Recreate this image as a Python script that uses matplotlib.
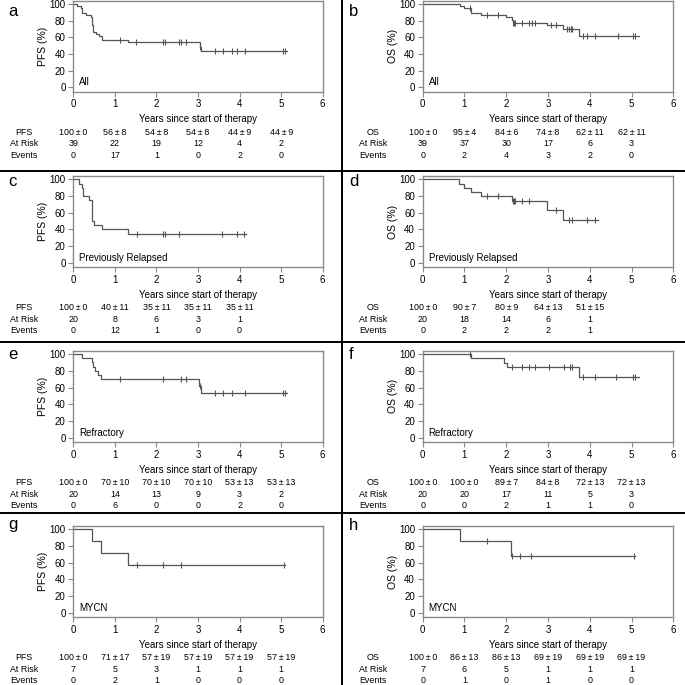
import matplotlib
matplotlib.use('Agg')
import matplotlib.pyplot as plt
from matplotlib.lines import Line2D

plt.rcParams['font.family'] = ['Liberation Sans', 'DejaVu Sans']

# ---------------- data ----------------
xticks = [0, 1, 2, 3, 4, 5, 6]
yticks = [0, 20, 40, 60, 80, 100]
xlabel = "Years since start of therapy"
row_labels_pfs = ["PFS", "At Risk", "Events"]
row_labels_os = ["OS", "At Risk", "Events"]
table_times = [0, 1, 2, 3, 4, 5]

# a: PFS All
a_t = [0, 0.10, 0.18, 0.22, 0.30, 0.42, 0.45, 0.48, 0.55, 0.62, 0.68, 1.32, 3.04, 3.08]
a_s = [100, 97.4, 94.9, 89.7, 87.2, 84.6, 74.4, 66.7, 64.1, 61.5, 56.4, 54.0, 49.0, 44.0]
a_cens = [1.13, 1.52, 2.17, 2.20, 2.55, 2.60, 2.70, 3.05, 3.41, 3.59, 3.81, 3.93, 4.13, 5.05, 5.09]
a_end = 5.15
a_est = [100, 56, 54, 54, 44, 44]
a_se = [0, 8, 8, 8, 9, 9]
a_risk = [39, 22, 19, 12, 4, 2]
a_events = [0, 17, 1, 0, 2, 0]

# b: OS All
b_t = [0, 0.89, 1.00, 1.16, 1.40, 1.99, 2.13, 2.16, 2.97, 3.35, 3.75]
b_s = [100, 97.4, 94.9, 89.6, 86.8, 84.0, 80.9, 77.8, 74.3, 69.5, 62.0]
b_cens = [1.13, 1.53, 1.81, 2.17, 2.19, 2.21, 2.37, 2.55, 2.61, 2.69, 3.07, 3.18,
          3.45, 3.50, 3.54, 3.58, 3.83, 3.93, 4.13, 4.67, 5.04, 5.09]
b_end = 5.18
b_est = [100, 95, 84, 74, 62, 62]
b_se = [0, 4, 6, 8, 11, 11]
b_risk = [39, 37, 30, 17, 6, 3]
b_events = [0, 2, 4, 3, 2, 0]

# c: PFS Previously Relapsed
c_t = [0, 0.14, 0.20, 0.24, 0.38, 0.44, 0.46, 0.50, 0.68, 1.32]
c_s = [100, 95, 90, 80, 75, 60, 50, 45, 40, 35]
c_cens = [1.53, 2.17, 2.20, 2.55, 3.58, 3.93, 4.10]
c_end = 4.15
c_est = [100, 40, 35, 35, 35]
c_se = [0, 11, 11, 11, 11]
c_risk = [20, 8, 6, 3, 1]
c_events = [0, 12, 1, 0, 0]

# d: OS Previously Relapsed
d_t = [0, 0.88, 1.00, 1.16, 1.40, 2.13, 2.97, 3.35]
d_s = [100, 95, 90, 85, 80, 74.3, 63.7, 51.0]
d_cens = [1.53, 1.81, 2.17, 2.19, 2.21, 2.37, 2.55, 3.18, 3.50, 3.58, 3.93, 4.13]
d_end = 4.20
d_est = [100, 90, 80, 64, 51]
d_se = [0, 7, 9, 13, 15]
d_risk = [20, 18, 14, 6, 1]
d_events = [0, 2, 2, 2, 1]

# e: PFS Refractory
e_t = [0, 0.22, 0.44, 0.47, 0.52, 0.59, 0.67, 3.03, 3.07]
e_s = [100, 95, 90, 85, 80, 75, 70, 62.2, 53.0]
e_cens = [1.13, 2.17, 2.60, 2.70, 3.05, 3.41, 3.59, 3.81, 4.13, 5.05, 5.09]
e_end = 5.15
e_est = [100, 70, 70, 70, 53, 53]
e_se = [0, 10, 10, 10, 13, 13]
e_risk = [20, 14, 13, 9, 3, 2]
e_events = [0, 6, 0, 0, 2, 0]

# f: OS Refractory
f_t = [0, 1.16, 1.94, 2.03, 3.75]
f_s = [100, 95, 89.5, 84.0, 72.0]
f_cens = [1.13, 2.15, 2.37, 2.55, 2.69, 3.03, 3.38, 3.52, 3.58, 3.83, 4.13, 4.63, 5.04, 5.09]
f_end = 5.18
f_est = [100, 100, 89, 84, 72, 72]
f_se = [0, 0, 7, 8, 13, 13]
f_risk = [20, 20, 17, 11, 5, 3]
f_events = [0, 0, 2, 1, 1, 0]

# g: PFS MYCN
g_t = [0, 0.44, 0.67, 1.32]
g_s = [100, 85.7, 71.4, 57.1]
g_cens = [1.53, 2.17, 2.60, 5.06]
g_end = 5.10
g_est = [100, 71, 57, 57, 57, 57]
g_se = [0, 17, 19, 19, 19, 19]
g_risk = [7, 5, 3, 1, 1, 1]
g_events = [0, 2, 1, 0, 0, 0]

# h: OS MYCN
h_t = [0, 0.89, 2.12]
h_s = [100, 85.7, 68.6]
h_cens = [1.53, 2.15, 2.33, 2.60, 5.06]
h_end = 5.08
h_est = [100, 86, 86, 69, 69, 69]
h_se = [0, 13, 13, 19, 19, 19]
h_risk = [7, 6, 5, 1, 1, 1]
h_events = [0, 1, 0, 1, 0, 0]

panel_letters = ["a", "b", "c", "d", "e", "f", "g", "h"]
group_names = ["All", "All", "Previously Relapsed", "Previously Relapsed",
               "Refractory", "Refractory", "MYCN", "MYCN"]
ylabels = ["PFS (%)", "OS (%)"]

# ---------------- layout ----------------
W = H = 685
fig = plt.figure(figsize=(6.85, 6.85), dpi=100)

LINE = '#555555'
SPINE = '#8a8a8a'

row_top = [0.7, 176.0, 350.7, 526.0]
row_bot = [91.5, 266.9, 441.9, 616.9]
col_left = [73.3, 422.7]
col_w = [249.4, 250.6]
letter_x = [8, 349]
letter_base = [16, 186.5, 359, 529.5]

panels = [
    (a_t, a_s, a_cens, a_end, a_est, a_se, a_risk, a_events),
    (b_t, b_s, b_cens, b_end, b_est, b_se, b_risk, b_events),
    (c_t, c_s, c_cens, c_end, c_est, c_se, c_risk, c_events),
    (d_t, d_s, d_cens, d_end, d_est, d_se, d_risk, d_events),
    (e_t, e_s, e_cens, e_end, e_est, e_se, e_risk, e_events),
    (f_t, f_s, f_cens, f_end, f_est, f_se, f_risk, f_events),
    (g_t, g_s, g_cens, g_end, g_est, g_se, g_risk, g_events),
    (h_t, h_s, h_cens, h_end, h_est, h_se, h_risk, h_events),
]

PX2PT = 0.72
TFS = 6.4

for k, (t, s, cens, end, est, se, risk, events) in enumerate(panels):
    r, c = divmod(k, 2)
    top, bot = row_top[r], row_bot[r]
    ax = fig.add_axes([col_left[c] / W, 1 - bot / H, col_w[c] / W, (bot - top) / H])
    tt = list(t) + [end]
    ss = list(s) + [s[-1]]
    ax.step(tt, ss, where='post', color=LINE, lw=0.9)
    cy = []
    for cv in cens:
        idx = max(i for i, ti in enumerate(t) if ti <= cv)
        cy.append(s[idx])
    ax.plot(cens, cy, linestyle='none', marker='|', ms=5, mew=0.8, color=LINE)

    ax.set_xlim(0, 6)
    ax.set_ylim(-5, 104)
    ax.set_xticks(xticks)
    ax.set_yticks(yticks)
    ax.tick_params(axis='both', labelsize=7, length=3.5, width=0.8, color=SPINE, pad=2)
    for sp in ax.spines.values():
        sp.set_color(SPINE)
        sp.set_linewidth(1.0)
    ax.set_ylabel(ylabels[c], fontsize=7.5)
    ax.yaxis.set_label_coords(-25 / col_w[c], 0.5)

    ax.text(0.14, 2.5, group_names[k], fontsize=7, va='baseline', ha='left')

    trans = ax.get_xaxis_transform()
    ax.annotate(xlabel, xy=(3, 0), xycoords=trans, xytext=(0, -28 * PX2PT),
                textcoords='offset points', ha='center', va='center', fontsize=7,
                annotation_clip=False)
    labels = row_labels_pfs if c == 0 else row_labels_os
    offs = [41, 52.5, 64]
    rows = [[f"{e}\u2009\u00b1\u2009{d}" for e, d in zip(est, se)],
            [str(v) for v in risk],
            [str(v) for v in events]]
    for lab, off, vals in zip(labels, offs, rows):
        ax.annotate(lab, xy=(-1.19, 0), xycoords=trans, xytext=(0, -off * PX2PT),
                    textcoords='offset points', ha='center', va='center', fontsize=TFS,
                    annotation_clip=False)
        for tx, v in zip(table_times, vals):
            ax.annotate(v, xy=(tx, 0), xycoords=trans, xytext=(0, -off * PX2PT),
                        textcoords='offset points', ha='center', va='center', fontsize=TFS,
                        annotation_clip=False)

    fig.text(letter_x[c] / W, 1 - letter_base[r] / H, panel_letters[k], fontsize=12,
             ha='left', va='baseline')

# panel dividers
for yp in [170.5, 342, 513]:
    fig.add_artist(Line2D([0, 1], [1 - yp / H, 1 - yp / H], transform=fig.transFigure,
                          color='black', lw=1.4))
fig.add_artist(Line2D([342 / W, 342 / W], [0, 1], transform=fig.transFigure,
                      color='black', lw=1.4))

fig.savefig('out.png', dpi=100)
